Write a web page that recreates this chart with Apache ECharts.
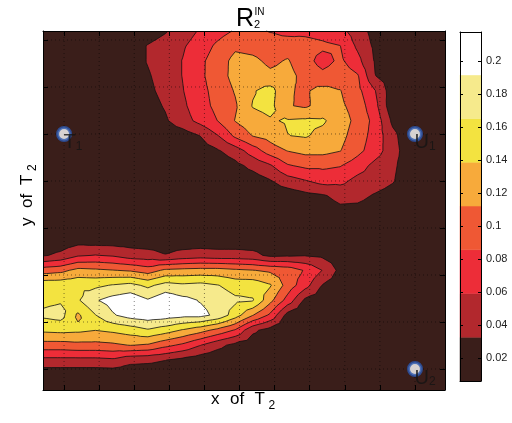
<!DOCTYPE html>
<html><head><meta charset="utf-8">
<script src="https://cdn.jsdelivr.net/npm/echarts@6/dist/echarts.min.js"></script>
<style>html,body{margin:0;padding:0;background:#fff}#c{width:512px;height:423px}</style>
</head><body><div id="c"></div>
<script>
// ---------------- data ----------------
const xRange = [0.4, 11.855];          // x of T2 axis extent
const yRange = [0.553, 8.191];         // y of T2 axis extent
const xTicks = [1, 2, 3, 4, 5, 6, 7, 8, 9, 10, 11];
const yTicks = [1, 2, 3, 4, 5, 6, 7, 8];
const levels = [0.0325, 0.059, 0.0855, 0.112, 0.1385, 0.165, 0.1915];
const cbRange = [0.006, 0.2175];
const cbTicks = [0.02, 0.04, 0.06, 0.08, 0.1, 0.12, 0.14, 0.16, 0.18, 0.2];
const bandColors = ['#3a1e1a', '#b2282d', '#ed2d38', '#ef5834', '#f7aa3b', '#f3e340', '#f6ea8c', '#ffffff'];
const markerNames = ['T1', 'U1', 'U2'];
const markerX = [1, 11, 11];
const markerY = [6, 6, 1];
// R2 IN values on a 24 x 25 grid, rows from top (y max) to bottom, columns from x min to x max
const zRows = [
[0.011,0.011,0.011,0.011,0.014,0.014,0.019,0.030,0.046,0.062,0.075,0.088,0.091,0.084,0.077,0.079,0.075,0.067,0.046,0.022,0.014,0.011,0.011,0.011],
[0.011,0.011,0.011,0.014,0.014,0.019,0.034,0.044,0.056,0.072,0.091,0.107,0.104,0.099,0.101,0.096,0.091,0.086,0.054,0.027,0.017,0.011,0.011,0.011],
[0.011,0.011,0.014,0.014,0.014,0.019,0.034,0.046,0.060,0.080,0.099,0.120,0.117,0.107,0.114,0.096,0.075,0.091,0.067,0.030,0.017,0.011,0.011,0.011],
[0.011,0.014,0.014,0.014,0.017,0.022,0.030,0.043,0.060,0.080,0.101,0.120,0.125,0.117,0.120,0.104,0.093,0.101,0.088,0.033,0.022,0.011,0.011,0.011],
[0.011,0.014,0.014,0.017,0.017,0.022,0.027,0.040,0.058,0.077,0.096,0.114,0.136,0.149,0.114,0.109,0.120,0.113,0.093,0.060,0.017,0.011,0.011,0.011],
[0.014,0.014,0.014,0.017,0.017,0.019,0.022,0.035,0.054,0.075,0.093,0.109,0.140,0.146,0.114,0.108,0.122,0.117,0.101,0.067,0.014,0.011,0.011,0.011],
[0.014,0.014,0.014,0.014,0.017,0.017,0.017,0.029,0.048,0.067,0.086,0.113,0.128,0.136,0.141,0.143,0.142,0.125,0.104,0.077,0.027,0.011,0.011,0.011],
[0.014,0.014,0.014,0.014,0.014,0.014,0.014,0.014,0.019,0.033,0.058,0.091,0.113,0.122,0.138,0.141,0.131,0.120,0.099,0.075,0.040,0.014,0.011,0.011],
[0.014,0.014,0.014,0.014,0.014,0.014,0.014,0.014,0.014,0.019,0.030,0.046,0.072,0.099,0.113,0.120,0.120,0.113,0.093,0.072,0.043,0.017,0.011,0.011],
[0.014,0.014,0.014,0.014,0.014,0.014,0.014,0.014,0.014,0.014,0.014,0.025,0.040,0.056,0.083,0.091,0.091,0.087,0.072,0.051,0.038,0.017,0.011,0.011],
[0.014,0.014,0.014,0.014,0.014,0.014,0.014,0.014,0.014,0.014,0.014,0.014,0.019,0.031,0.048,0.058,0.069,0.067,0.051,0.046,0.035,0.014,0.011,0.011],
[0.014,0.014,0.014,0.014,0.014,0.014,0.014,0.014,0.014,0.014,0.014,0.014,0.014,0.014,0.017,0.025,0.030,0.040,0.040,0.030,0.022,0.011,0.011,0.011],
[0.014,0.014,0.014,0.014,0.014,0.014,0.014,0.014,0.014,0.014,0.014,0.014,0.014,0.014,0.014,0.014,0.019,0.027,0.025,0.019,0.014,0.011,0.011,0.011],
[0.017,0.017,0.017,0.017,0.017,0.017,0.017,0.017,0.017,0.017,0.017,0.014,0.014,0.014,0.014,0.014,0.014,0.014,0.014,0.014,0.014,0.014,0.014,0.014],
[0.014,0.017,0.022,0.019,0.019,0.019,0.017,0.017,0.017,0.017,0.017,0.017,0.017,0.014,0.014,0.014,0.014,0.014,0.011,0.011,0.011,0.011,0.011,0.011],
[0.030,0.038,0.056,0.060,0.056,0.046,0.043,0.034,0.042,0.046,0.043,0.043,0.040,0.027,0.029,0.031,0.027,0.019,0.014,0.011,0.011,0.011,0.011,0.011],
[0.099,0.104,0.120,0.117,0.113,0.109,0.099,0.117,0.120,0.122,0.122,0.117,0.113,0.107,0.101,0.083,0.058,0.025,0.014,0.011,0.011,0.011,0.011,0.011],
[0.157,0.157,0.159,0.159,0.167,0.173,0.159,0.175,0.170,0.173,0.166,0.154,0.154,0.141,0.101,0.069,0.031,0.019,0.014,0.011,0.011,0.011,0.011,0.011],
[0.159,0.162,0.162,0.189,0.202,0.210,0.194,0.210,0.199,0.190,0.181,0.170,0.167,0.120,0.075,0.027,0.017,0.014,0.011,0.011,0.011,0.011,0.011,0.011],
[0.170,0.175,0.134,0.164,0.189,0.202,0.207,0.204,0.199,0.199,0.185,0.151,0.113,0.080,0.022,0.014,0.011,0.011,0.011,0.011,0.011,0.011,0.011,0.011],
[0.144,0.146,0.144,0.139,0.144,0.151,0.162,0.151,0.136,0.122,0.104,0.083,0.038,0.022,0.014,0.011,0.011,0.011,0.011,0.011,0.011,0.011,0.011,0.011],
[0.101,0.101,0.104,0.104,0.107,0.113,0.109,0.093,0.080,0.060,0.040,0.025,0.017,0.014,0.011,0.011,0.011,0.011,0.011,0.011,0.011,0.011,0.011,0.011],
[0.051,0.051,0.051,0.051,0.054,0.040,0.038,0.033,0.025,0.017,0.014,0.011,0.011,0.011,0.011,0.011,0.011,0.011,0.011,0.011,0.011,0.011,0.011,0.011],
[0.014,0.014,0.014,0.014,0.014,0.014,0.014,0.014,0.014,0.011,0.011,0.011,0.011,0.011,0.011,0.011,0.011,0.011,0.011,0.011,0.011,0.011,0.011,0.011],
[0.011,0.011,0.011,0.011,0.011,0.011,0.011,0.011,0.011,0.011,0.011,0.011,0.011,0.011,0.011,0.011,0.011,0.011,0.011,0.011,0.011,0.011,0.011,0.011]
];

// ---------------- contour geometry (in data space) ----------------
const FONT = 'Liberation Sans, Arial, Helvetica, sans-serif';
const nx = zRows[0].length, ny = zRows.length;
const xs = Array.from({length: nx}, (_, i) => xRange[0] + i * (xRange[1] - xRange[0]) / (nx - 1));
const ys = Array.from({length: ny}, (_, j) => yRange[1] - j * (yRange[1] - yRange[0]) / (ny - 1));
const tris = [];
for (let j = 0; j < ny - 1; j++) {
  for (let i = 0; i < nx - 1; i++) {
    const a = [xs[i], ys[j], zRows[j][i]];
    const b = [xs[i + 1], ys[j], zRows[j][i + 1]];
    const c = [xs[i + 1], ys[j + 1], zRows[j + 1][i + 1]];
    const d = [xs[i], ys[j + 1], zRows[j + 1][i]];
    const m = [(a[0] + b[0]) / 2, (a[1] + d[1]) / 2, (a[2] + b[2] + c[2] + d[2]) / 4];
    tris.push([a, b, m], [b, c, m], [c, d, m], [d, a, m]);
  }
}
function clipAbove(poly, lv) {
  const out = [];
  for (let k = 0; k < poly.length; k++) {
    const a = poly[k], b = poly[(k + 1) % poly.length];
    const ain = a[2] >= lv, bin = b[2] >= lv;
    if (ain) out.push(a);
    if (ain !== bin) {
      const t = (lv - a[2]) / (b[2] - a[2]);
      out.push([a[0] + t * (b[0] - a[0]), a[1] + t * (b[1] - a[1]), lv]);
    }
  }
  return out;
}
const f2 = v => v.toFixed(2);

function renderContour(params, api) {
  const P = p => api.coord([p[0], p[1]]);
  const children = [];
  const tl = P([xRange[0], yRange[1]]), br = P([xRange[1], yRange[0]]);
  children.push({type: 'rect', shape: {x: tl[0], y: tl[1], width: br[0] - tl[0], height: br[1] - tl[1]},
    style: {fill: bandColors[0]}});
  levels.forEach((lv, k) => {
    let d = '';
    for (const t of tris) {
      if (t[0][2] < lv && t[1][2] < lv && t[2][2] < lv) continue;
      const poly = clipAbove(t, lv);
      if (poly.length < 3) continue;
      poly.forEach((p, n) => { const q = P(p); d += (n ? 'L' : 'M') + f2(q[0]) + ' ' + f2(q[1]); });
      d += 'Z';
    }
    if (d) children.push({type: 'path', shape: {pathData: d}, style: {fill: bandColors[k + 1], stroke: null}});
  });
  // dotted grid
  let g = '';
  xTicks.forEach(t => { const p = P([t, yRange[0]]), q = P([t, yRange[1]]); g += 'M' + f2(p[0]) + ' ' + f2(p[1]) + 'L' + f2(q[0]) + ' ' + f2(q[1]); });
  yTicks.forEach(t => { const p = P([xRange[0], t]), q = P([xRange[1], t]); g += 'M' + f2(p[0]) + ' ' + f2(p[1]) + 'L' + f2(q[0]) + ' ' + f2(q[1]); });
  children.push({type: 'path', shape: {pathData: g}, style: {fill: 'none', stroke: '#000', lineWidth: 0.9, lineDash: [1, 3], opacity: 0.55}});
  // contour lines
  let cl = '';
  levels.forEach(lv => {
    for (const t of tris) {
      const pts = [];
      for (let e = 0; e < 3; e++) {
        const a = t[e], b = t[(e + 1) % 3];
        if ((a[2] >= lv) !== (b[2] >= lv)) {
          const s = (lv - a[2]) / (b[2] - a[2]);
          pts.push([a[0] + s * (b[0] - a[0]), a[1] + s * (b[1] - a[1])]);
        }
      }
      if (pts.length === 2) {
        const p = P(pts[0]), q = P(pts[1]);
        cl += 'M' + f2(p[0]) + ' ' + f2(p[1]) + 'L' + f2(q[0]) + ' ' + f2(q[1]);
      }
    }
  });
  children.push({type: 'path', shape: {pathData: cl}, style: {fill: 'none', stroke: '#111', lineWidth: 0.8}});
  return {type: 'group', children: children, silent: true};
}

function renderBand(params, api) {
  const lo = api.value(0), hi = api.value(1), k = api.value(2);
  const p = api.coord([0, hi]), q = api.coord([1, lo]);
  return {type: 'rect', shape: {x: p[0], y: p[1], width: q[0] - p[0], height: q[1] - p[1]},
    style: {fill: bandColors[k], stroke: bandColors[k], lineWidth: 0.5}};
}
const bandEdges = [cbRange[0]].concat(levels, [cbRange[1]]);
const bandData = bandColors.map((c, k) => [bandEdges[k], bandEdges[k + 1], k]);

const tickCommon = (vals) => ({show: true, inside: true, length: 5, customValues: vals, lineStyle: {color: '#000', width: 1}});
const lineCommon = {show: true, onZero: false, lineStyle: {color: '#000', width: 1}};
const txt = (s, x, y, size, align, extra) => Object.assign({type: 'text', x: x, y: y, silent: true, z: 20,
  style: {text: s, fontSize: size, fontFamily: FONT, fill: '#000', align: align, verticalAlign: 'middle',
    textAlign: align, textVerticalAlign: 'middle'}}, extra || {});

const option = {
  animation: false,
  backgroundColor: '#fff',
  grid: [
    {left: 43, top: 31, width: 402, height: 359},
    {left: 460, top: 32, width: 21, height: 349}
  ],
  xAxis: [
    {gridIndex: 0, type: 'value', min: xRange[0], max: xRange[1], position: 'bottom', z: 10, axisLine: lineCommon,
      axisTick: tickCommon(xTicks), axisLabel: {show: false, customValues: xTicks}, splitLine: {show: false}},
    {gridIndex: 0, type: 'value', min: xRange[0], max: xRange[1], position: 'top', z: 10, axisLine: lineCommon,
      axisTick: tickCommon(xTicks), axisLabel: {show: false, customValues: xTicks}, splitLine: {show: false}},
    {gridIndex: 1, type: 'value', min: 0, max: 1, position: 'bottom', z: 10, axisLine: lineCommon,
      axisTick: {show: false}, axisLabel: {show: false}, splitLine: {show: false}},
    {gridIndex: 1, type: 'value', min: 0, max: 1, position: 'top', z: 10, axisLine: lineCommon,
      axisTick: {show: false}, axisLabel: {show: false}, splitLine: {show: false}}
  ],
  yAxis: [
    {gridIndex: 0, type: 'value', min: yRange[0], max: yRange[1], position: 'left', z: 10, axisLine: lineCommon,
      axisTick: tickCommon(yTicks), axisLabel: {show: false, customValues: yTicks}, splitLine: {show: false}},
    {gridIndex: 0, type: 'value', min: yRange[0], max: yRange[1], position: 'right', z: 10, axisLine: lineCommon,
      axisTick: tickCommon(yTicks), axisLabel: {show: false, customValues: yTicks}, splitLine: {show: false}},
    {gridIndex: 1, type: 'value', min: cbRange[0], max: cbRange[1], position: 'right', z: 10, axisLine: lineCommon,
      axisTick: {show: true, inside: true, length: 3, customValues: cbTicks, lineStyle: {color: '#000'}},
      axisLabel: {show: true, customValues: cbTicks, fontSize: 11, color: '#222', fontFamily: FONT, margin: 5},
      splitLine: {show: false}},
    {gridIndex: 1, type: 'value', min: cbRange[0], max: cbRange[1], position: 'left', z: 10, axisLine: lineCommon,
      axisTick: {show: true, inside: true, length: 3, customValues: cbTicks, lineStyle: {color: '#000'}},
      axisLabel: {show: false, customValues: cbTicks}, splitLine: {show: false}}
  ],
  series: [
    {type: 'custom', xAxisIndex: 0, yAxisIndex: 0, renderItem: renderContour, data: [[xRange[0], yRange[0]]], z: 1, silent: true},
    {type: 'custom', xAxisIndex: 2, yAxisIndex: 2, renderItem: renderBand, data: bandData,
      encode: {x: -1, y: [0, 1]}, z: 1, silent: true},
    {type: 'scatter', xAxisIndex: 0, yAxisIndex: 0, z: 5, silent: true,
      data: markerNames.map((n, k) => ({name: n, value: [markerX[k], markerY[k]]})),
      symbol: 'circle', symbolSize: 13,
      itemStyle: {color: '#ffffff', borderColor: '#2a56ae', borderWidth: 3},
      label: {show: true, position: [7.5, 7], align: 'left', verticalAlign: 'top', color: '#141414',
        formatter: p => '{m|' + p.name.charAt(0) + '}{s|' + p.name.slice(1) + '}',
        rich: {m: {fontSize: 20, fontFamily: FONT, color: '#141414'},
               s: {fontSize: 12, fontFamily: FONT, color: '#141414', verticalAlign: 'bottom'}}}}
  ],
  graphic: [
    txt('R', 236, 19.6, 25, 'left'),
    txt('IN', 254.5, 12.5, 10, 'left'),
    txt('2', 254, 24.5, 11, 'left'),
    txt('x', 211, 399.8, 17, 'left'),
    txt('of', 230, 399.8, 17, 'left'),
    txt('T', 254.5, 399.8, 17, 'left'),
    txt('2', 268.5, 405.8, 12, 'left'),
    {type: 'group', x: 27, y: 226, rotation: Math.PI / 2, silent: true, children: [
      txt('y', 0, 0, 17, 'left'),
      txt('of', 18, 0, 17, 'left'),
      txt('T', 41, 0, 17, 'left'),
      txt('2', 55, 6, 12, 'left')
    ]}
  ]
};
const chart = echarts.init(document.getElementById('c'));
chart.setOption(option);
</script>
</body></html>
